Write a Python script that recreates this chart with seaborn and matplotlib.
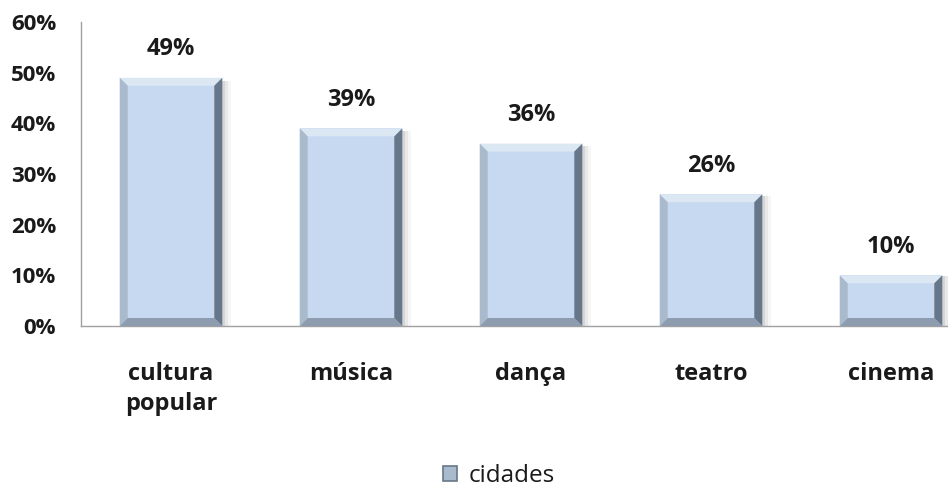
import matplotlib
matplotlib.use("Agg")
import matplotlib.pyplot as plt
import seaborn as sns
import pandas as pd
from matplotlib.patches import Polygon, Rectangle

categories = ["cultura\npopular", "música", "dança", "teatro", "cinema"]
values = [49, 39, 36, 26, 10]
series_name = "cidades"
yticks = [0, 10, 20, 30, 40, 50, 60]

sns.set_theme(style="white")
plt.rcParams['font.family'] = ['Open Sans', 'DejaVu Sans']

fig = plt.figure(figsize=(9.48, 4.91), dpi=100)
ax = fig.add_axes([81 / 948, 1 - 326 / 491, 900 / 948, 304 / 491])

df = pd.DataFrame({"cat": categories, "val": values})
face = "#C6D9F1"
sns.barplot(data=df, x="cat", y="val", ax=ax, color=face, width=0.57,
            saturation=1, edgecolor="none", zorder=3)

ax.set_ylim(0, 60)
ax.set_xlim(-0.5, len(categories) - 0.5)
ax.set_yticks(yticks)
ax.set_yticklabels([f"{t}%" for t in yticks], fontsize=16, fontweight="bold")
ax.set_xticks(range(len(categories)))
ax.set_xticklabels(categories, fontsize=17, fontweight="bold", linespacing=1.3)
ax.tick_params(axis="x", pad=26, length=0)
ax.tick_params(axis="y", pad=18, length=0)
ax.set_xlabel("")
ax.set_ylabel("")
for s in ["top", "right"]:
    ax.spines[s].set_visible(False)
for s in ["left", "bottom"]:
    ax.spines[s].set_color("#A0A0A0")
    ax.spines[s].set_linewidth(1.0)

fig.canvas.draw()
inv = ax.transData.inverted()
p0 = inv.transform((0, 0))
p1 = inv.transform((8, 8))
bx, by = p1[0] - p0[0], p1[1] - p0[1]
s1 = inv.transform((3, 0))
sx = s1[0] - p0[0]

for patch, v in zip(list(ax.patches), values):
    x0, y0 = patch.get_x(), patch.get_y()
    w, h = patch.get_width(), patch.get_height()
    x1, y1 = x0 + w, y0 + h
    # shadow
    for k, a in enumerate([0.12, 0.08, 0.05]):
        ax.add_patch(Rectangle((x0 + sx * (k + 1), y0), w, h * 0.985,
                               facecolor="#505050", alpha=a, edgecolor="none",
                               zorder=2))
    # bevels
    ax.add_patch(Polygon([(x0, y1), (x1, y1), (x1 - bx, y1 - by), (x0 + bx, y1 - by)],
                         facecolor="#DCE7F4", edgecolor="none", zorder=4))
    ax.add_patch(Polygon([(x0, y0), (x0, y1), (x0 + bx, y1 - by), (x0 + bx, y0 + by)],
                         facecolor="#A9BACD", edgecolor="none", zorder=4))
    ax.add_patch(Polygon([(x0, y0), (x1, y0), (x1 - bx, y0 + by), (x0 + bx, y0 + by)],
                         facecolor="#8D9DAF", edgecolor="none", zorder=4))
    ax.add_patch(Polygon([(x1, y0), (x1, y1), (x1 - bx, y1 - by), (x1 - bx, y0 + by)],
                         facecolor="#66778A", edgecolor="none", zorder=4))
    ax.text(x0 + w / 2, y1 + 3.3, f"{v}%", ha="center", va="bottom",
            fontsize=17, fontweight="bold", color="#1a1a1a", zorder=5)

handle = Rectangle((0, 0), 1, 1, facecolor="#A9BACD", edgecolor="#66778A", linewidth=1.2)
fig.legend([handle], [series_name], loc="center", bbox_to_anchor=(0.526, 0.03),
           frameon=False, fontsize=17.5, handlelength=0.6, handleheight=0.6,
           handletextpad=0.45, labelcolor="#1a1a1a", borderpad=0)

for lbl in ax.get_yticklabels() + ax.get_xticklabels():
    lbl.set_color("#1a1a1a")

fig.savefig("out.png", dpi=100)
